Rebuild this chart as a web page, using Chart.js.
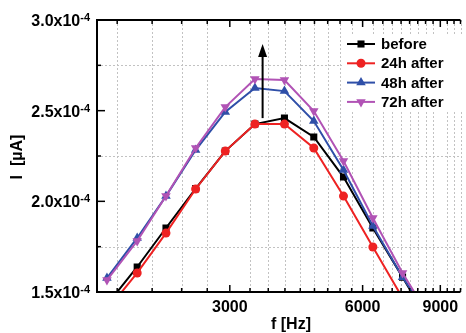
<!DOCTYPE html>
<html>
<head>
<meta charset="utf-8">
<script src="https://cdn.jsdelivr.net/npm/chart.js@4.4.1/dist/chart.umd.min.js"></script>
<style>
  html, body { margin: 0; padding: 0; background: #fff; }
  #wrap { width: 466px; height: 333px; }
</style>
</head>
<body>
<div id="wrap"><canvas id="chart"></canvas></div>
<script>
// frequencies of the measured points (Hz)
const freqHz = [1580, 1850, 2150, 2510, 2930, 3420, 3990, 4650, 5430, 6330, 7390, 8610];

// current values
const iBefore = [1.430e-4, 1.638e-4, 1.853e-4, 2.070e-4, 2.277e-4, 2.426e-4, 2.459e-4, 2.355e-4, 2.134e-4, 1.853e-4, 1.582e-4, 1.310e-4];
const i24h    = [1.400e-4, 1.605e-4, 1.825e-4, 2.068e-4, 2.277e-4, 2.426e-4, 2.426e-4, 2.294e-4, 2.029e-4, 1.748e-4, 1.467e-4, 1.200e-4];
const i48h    = [1.577e-4, 1.798e-4, 2.029e-4, 2.283e-4, 2.493e-4, 2.625e-4, 2.608e-4, 2.443e-4, 2.173e-4, 1.864e-4, 1.582e-4, 1.340e-4];
const i72h    = [1.566e-4, 1.781e-4, 2.029e-4, 2.294e-4, 2.520e-4, 2.675e-4, 2.669e-4, 2.498e-4, 2.222e-4, 1.908e-4, 1.605e-4, 1.342e-4];

const seriesNames = ['before', '24h after', '48h after', '72h after'];

// tick labels
const xTickLabels = ['3000', '6000', '9000'];
const yTickLabels = ['1.5', '2.0', '2.5', '3.0'];
const yExponent = '-4';

const FONT = '"Liberation Sans", Arial, sans-serif';
const styles = [
    { color: '#000000', marker: 'rect', r: 5, rot: 0 },
    { color: '#ee2222', marker: 'circle', r: 4.5, rot: 0 },
    { color: '#2f4fa8', marker: 'triangle', r: 5.5, rot: 0 },
    { color: '#b153b5', marker: 'triangle', r: 5.5, rot: 180 }
];

function drawMarker(ctx, s, x, y) {
    ctx.fillStyle = s.color;
    ctx.beginPath();
    if (s.marker === 'rect') {
        const h = s.r * Math.SQRT1_2;
        ctx.rect(x - h, y - h, 2 * h, 2 * h);
    } else if (s.marker === 'circle') {
        ctx.arc(x, y, s.r, 0, Math.PI * 2);
    } else {
        const d = s.rot === 180 ? -1 : 1;
        const w = s.r * Math.sin(Math.PI / 3);
        ctx.moveTo(x, y - d * s.r);
        ctx.lineTo(x + w, y + d * s.r / 2);
        ctx.lineTo(x - w, y + d * s.r / 2);
        ctx.closePath();
    }
    ctx.fill();
}

function line(ctx, x1, y1, x2, y2) {
    ctx.beginPath();
    ctx.moveTo(x1, y1);
    ctx.lineTo(x2, y2);
    ctx.stroke();
}

// tick positions on both axes
const xTicks = [];
for (let k = 5; k <= 30; k++) xTicks.push({ value: k * 1000 / 3, major: k % 9 === 0 });
const yTicks = [];
for (let k = 0; k <= 6; k++) yTicks.push({ value: 1.5e-4 + k * 0.25e-4, major: k % 2 === 0 });

const framePlugin = {
    id: 'frame',
    beforeDatasetsDraw(chart) {
        const { ctx, chartArea: a, scales: { x, y } } = chart;
        ctx.save();
        ctx.strokeStyle = '#c2c2c2';
        ctx.lineWidth = 1;
        ctx.setLineDash([2, 2]);
        xTicks.filter(t => !t.major).forEach(t => {
            const px = Math.round(x.getPixelForValue(t.value)) + 0.5;
            line(ctx, px, a.top, px, a.bottom);
        });
        yTicks.filter(t => !t.major).forEach(t => {
            const py = Math.round(y.getPixelForValue(t.value)) + 0.5;
            line(ctx, a.left, py, a.right, py);
        });
        ctx.restore();
    },
    afterDatasetsDraw(chart) {
        const { ctx, chartArea: a, scales: { x, y } } = chart;
        ctx.save();
        ctx.strokeStyle = '#000';

        // arrow
        const ax = x.getPixelForValue(3560);
        const ay0 = y.getPixelForValue(2.459e-4);
        const ayTip = y.getPixelForValue(2.868e-4);
        ctx.lineWidth = 2;
        line(ctx, ax, ay0, ax, ayTip + 8);
        ctx.fillStyle = '#000';
        ctx.beginPath();
        ctx.moveTo(ax, ayTip);
        ctx.lineTo(ax + 4.5, ayTip + 13);
        ctx.lineTo(ax - 4.5, ayTip + 13);
        ctx.closePath();
        ctx.fill();

        // axes
        ctx.lineWidth = 2;
        line(ctx, a.left, a.top - 1, a.left, a.bottom + 1);
        line(ctx, a.left - 1, a.bottom, a.right, a.bottom);
        line(ctx, a.left - 1, a.top, a.right, a.top);

        ctx.lineWidth = 1.5;
        xTicks.forEach(t => {
            const px = x.getPixelForValue(t.value);
            const len = t.major ? 7 : 4;
            line(ctx, px, a.bottom, px, a.bottom - len);
            line(ctx, px, a.top, px, a.top + len);
        });
        yTicks.forEach(t => {
            const py = y.getPixelForValue(t.value);
            const len = t.major ? 8 : 4;
            line(ctx, a.left, py, a.left + len, py);
        });

        // tick labels
        ctx.fillStyle = '#000';
        ctx.textBaseline = 'alphabetic';
        ctx.font = 'bold 16px ' + FONT;
        ctx.textAlign = 'center';
        xTickLabels.forEach(lbl => {
            const px = x.getPixelForValue(Number(lbl));
            ctx.fillText(lbl, px, a.bottom + 20);
        });
        ctx.fillText('f [Hz]', 291, 329);

        ctx.textAlign = 'left';
        yTickLabels.forEach(lbl => {
            const py = y.getPixelForValue(Number(lbl) * 1e-4);
            const main = lbl + 'x10';
            ctx.font = 'bold 11px ' + FONT;
            const wS = ctx.measureText(yExponent).width;
            ctx.font = 'bold 16px ' + FONT;
            const wM = ctx.measureText(main).width;
            const x0 = 90 - wS - wM;
            ctx.fillText(main, x0, py + 6);
            ctx.font = 'bold 11px ' + FONT;
            ctx.fillText(yExponent, x0 + wM, py + 1);
        });

        // y title
        ctx.save();
        ctx.translate(22, 157);
        ctx.rotate(-Math.PI / 2);
        ctx.textAlign = 'center';
        ctx.font = 'bold 16px ' + FONT;
        ctx.fillText('I  [\u00b5A]', 0, 0);
        ctx.restore();

        ctx.restore();
    },
    afterDraw(chart) {
        const { ctx } = chart;
        ctx.save();
        ctx.fillStyle = '#fff';
        ctx.fillRect(342, 35, 124, 77);
        ctx.font = 'bold 15px ' + FONT;
        ctx.textAlign = 'left';
        ctx.textBaseline = 'alphabetic';
        seriesNames.forEach((name, i) => {
            const ly = 44 + i * 19.3;
            const s = styles[i];
            ctx.strokeStyle = s.color;
            ctx.lineWidth = 2;
            line(ctx, 347, ly, 375, ly);
            drawMarker(ctx, s, 361, ly);
            ctx.fillStyle = '#000';
            ctx.fillText(name, 381, ly + 5);
        });
        ctx.restore();
    }
};

const seriesData = [iBefore, i24h, i48h, i72h];

new Chart(document.getElementById('chart'), {
    type: 'line',
    data: {
        datasets: seriesData.map((vals, i) => ({
            label: seriesNames[i],
            data: freqHz.map((f, j) => ({ x: f, y: vals[j] })),
            borderColor: styles[i].color,
            backgroundColor: styles[i].color,
            borderWidth: 2,
            pointStyle: styles[i].marker,
            pointRotation: styles[i].rot,
            pointRadius: styles[i].r,
            pointBorderWidth: 0,
            pointBackgroundColor: styles[i].color,
            tension: 0,
            fill: false,
            order: 4 - i,
            clip: 0
        }))
    },
    options: {
        responsive: true,
        maintainAspectRatio: false,
        animation: false,
        devicePixelRatio: 1,
        layout: { padding: { top: 20, right: 0, bottom: 0, left: 0 } },
        plugins: { legend: { display: false }, tooltip: { enabled: false } },
        scales: {
            x: {
                type: 'logarithmic',
                min: 1500,
                max: 10000,
                grid: { display: false },
                border: { display: false },
                ticks: { display: false },
                afterFit: s => { s.height = 41; }
            },
            y: {
                type: 'linear',
                min: 1.5e-4,
                max: 3.0e-4,
                grid: { display: false },
                border: { display: false },
                ticks: { display: false },
                afterFit: s => { s.width = 97; }
            }
        }
    },
    plugins: [framePlugin]
});
</script>
</body>
</html>
